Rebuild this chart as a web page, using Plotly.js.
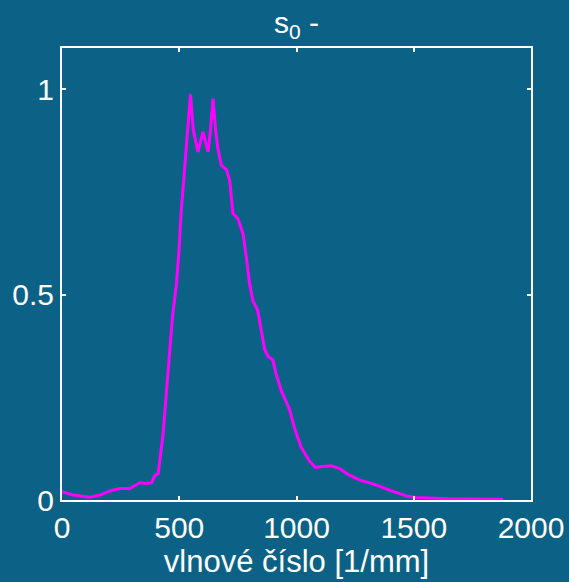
<!DOCTYPE html>
<html>
<head>
<meta charset="utf-8">
<script src="https://cdn.plot.ly/plotly-3.0.1.min.js"></script>
<style>html,body{margin:0;padding:0;background:#0b6286;}</style>
</head>
<body>
<div id="chart" style="width:569px;height:582px;"></div>
<script>
const waveNumber = [0, 48, 119, 162, 204, 247, 289, 332, 360, 382, 396, 410, 431, 445, 460, 471, 488, 499, 508, 516, 528, 537, 548, 560, 580, 601, 623, 633, 644, 655, 665, 679, 701, 715, 729, 750, 772, 786, 800, 814, 835, 850, 864, 878, 899, 913, 935, 970, 991, 1020, 1055, 1081, 1098, 1148, 1183, 1218, 1268, 1339, 1396, 1467, 1509, 1651, 1881];
const s0 = [0.02, 0.012, 0.007, 0.012, 0.022, 0.028, 0.028, 0.042, 0.04, 0.042, 0.06, 0.064, 0.16, 0.266, 0.363, 0.445, 0.526, 0.607, 0.70, 0.758, 0.823, 0.904, 0.987, 0.90, 0.847, 0.896, 0.847, 0.90, 0.977, 0.90, 0.855, 0.815, 0.804, 0.778, 0.697, 0.685, 0.648, 0.591, 0.526, 0.485, 0.461, 0.412, 0.367, 0.35, 0.341, 0.307, 0.266, 0.221, 0.176, 0.128, 0.095, 0.079, 0.081, 0.083, 0.077, 0.063, 0.049, 0.037, 0.024, 0.010, 0.006, 0.003, 0.002];
const xTicks = [0, 500, 1000, 1500, 2000];
const yTicks = [0, 0.5, 1];

const fontFam = '"Liberation Sans", Arial, sans-serif';
const trace = {
  x: waveNumber, y: s0, type: 'scatter', mode: 'lines',
  line: {color: '#ff00ff', width: 3}, hoverinfo: 'none'
};
const axisCommon = {
  showgrid: false, zeroline: false, showline: true, linecolor: '#ffffff', linewidth: 2,
  mirror: 'ticks', ticks: 'inside', ticklen: 4, tickwidth: 2, tickcolor: '#ffffff',
  tickfont: {family: fontFam, size: 30, color: '#ffffff'}
};
const layout = {
  width: 569, height: 582,
  paper_bgcolor: '#0b6286', plot_bgcolor: '#0b6286',
  margin: {l: 62, r: 38, t: 48, b: 82},
  showlegend: false,
  font: {family: fontFam, color: '#ffffff'},
  title: {text: 's<sub>0</sub> -', font: {family: fontFam, size: 30, color: '#ffffff'},
          x: 0.5, xanchor: 'center', xref: 'paper', y: 1 - 22/582, yanchor: 'middle', yref: 'container'},
  xaxis: Object.assign({}, axisCommon, {
    range: [0, 2000], tickvals: xTicks, ticktext: xTicks.map(String),
    title: {text: 'vlnové číslo [1/mm]', font: {family: fontFam, size: 31, color: '#ffffff'}, standoff: 0}
  }),
  yaxis: Object.assign({}, axisCommon, {
    range: [0, 1.1], tickvals: yTicks, ticktext: yTicks.map(String)
  })
};
Plotly.newPlot('chart', [trace], layout, {staticPlot: true, displayModeBar: false});
</script>
</body>
</html>
